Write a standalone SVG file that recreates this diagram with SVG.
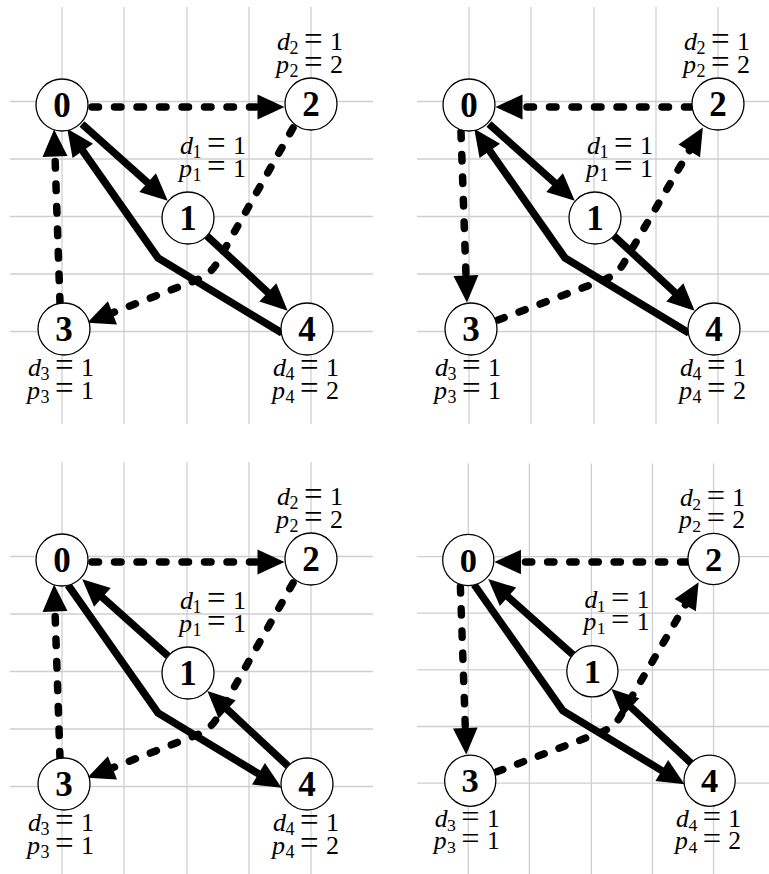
<svg xmlns="http://www.w3.org/2000/svg" width="769" height="874" viewBox="0 0 769 874">
<style>
.grid line{stroke:#cfcfcf;stroke-width:1.3}
.node circle{fill:#fff;stroke:#000;stroke-width:1.3}
.id{font-family:'Liberation Serif','Times New Roman',serif;font-weight:bold;font-size:35px;text-anchor:middle}
.lbl{font-family:'Liberation Serif','Times New Roman',serif;font-size:26px;fill:#000}
.it{font-style:italic}
.sub{font-size:18px}
.eq{font-size:33px}
.solid{fill:none;stroke:#000;stroke-width:7.5;stroke-linejoin:miter;marker-end:url(#ah)}
.dash{fill:none;stroke:#000;stroke-width:7.5;stroke-dasharray:6.5 16;stroke-linecap:round;stroke-linejoin:round;marker-end:url(#ah)}
</style>
<defs>
<marker id="ah" markerUnits="userSpaceOnUse" markerWidth="27" markerHeight="25" viewBox="0 0 27 25" refX="0.5" refY="12.5" orient="auto" overflow="visible">
<path d="M0,0 L27,12.5 L0,25 Z" fill="#000"/>
</marker>
<g id="gridpat" class="grid">
<line x1="10" y1="101.5" x2="373" y2="101.5"/>
<line x1="10" y1="159" x2="373" y2="159"/>
<line x1="10" y1="216.5" x2="373" y2="216.5"/>
<line x1="10" y1="274" x2="373" y2="274"/>
<line x1="10" y1="331.5" x2="373" y2="331.5"/>
<line x1="62" y1="7" x2="62" y2="424"/>
<line x1="124" y1="7" x2="124" y2="424"/>
<line x1="187" y1="7" x2="187" y2="424"/>
<line x1="249" y1="7" x2="249" y2="424"/>
<line x1="311" y1="7" x2="311" y2="424"/>
</g>
<g id="nodepat">
<g class="node"><circle cx="62" cy="105" r="26"/><text class="id" x="62" y="117">0</text></g>
<g class="node"><circle cx="188" cy="218" r="26"/><text class="id" x="188" y="230">1</text>
<text class="lbl" x="180" y="154"><tspan class="it">d</tspan><tspan class="sub" x="192.5" dy="4">1</tspan><tspan class="eq" x="207" dy="-4">=</tspan><tspan x="233">1</tspan></text>
<text class="lbl" x="179" y="176.5"><tspan class="it">p</tspan><tspan class="sub" x="192.5" dy="4">1</tspan><tspan class="eq" x="207" dy="-4">=</tspan><tspan x="233">1</tspan></text></g>
<g class="node"><circle cx="311" cy="104" r="26"/><text class="id" x="311" y="116">2</text>
<text class="lbl" x="277" y="50"><tspan class="it">d</tspan><tspan class="sub" x="289.5" dy="4">2</tspan><tspan class="eq" x="304" dy="-4">=</tspan><tspan x="330">1</tspan></text>
<text class="lbl" x="276" y="72.5"><tspan class="it">p</tspan><tspan class="sub" x="289.5" dy="4">2</tspan><tspan class="eq" x="304" dy="-4">=</tspan><tspan x="330">2</tspan></text></g>
<g class="node"><circle cx="64" cy="329" r="26"/><text class="id" x="64" y="341">3</text>
<text class="lbl" x="28" y="376"><tspan class="it">d</tspan><tspan class="sub" x="40.5" dy="4">3</tspan><tspan class="eq" x="55" dy="-4">=</tspan><tspan x="81">1</tspan></text>
<text class="lbl" x="27" y="398.5"><tspan class="it">p</tspan><tspan class="sub" x="40.5" dy="4">3</tspan><tspan class="eq" x="55" dy="-4">=</tspan><tspan x="81">1</tspan></text></g>
<g class="node"><circle cx="307" cy="329" r="26"/><text class="id" x="307" y="341">4</text>
<text class="lbl" x="273" y="376"><tspan class="it">d</tspan><tspan class="sub" x="285.5" dy="4">4</tspan><tspan class="eq" x="300" dy="-4">=</tspan><tspan x="326">1</tspan></text>
<text class="lbl" x="272" y="398.5"><tspan class="it">p</tspan><tspan class="sub" x="285.5" dy="4">4</tspan><tspan class="eq" x="300" dy="-4">=</tspan><tspan x="326">2</tspan></text></g>
</g>
</defs>

<!-- Panel 1 -->
<g id="panel1">
<use href="#gridpat"/>
<g id="p1-edges">
<path class="dash" d="M92,107 L258,107"/>
<path class="dash" d="M60,303 L55,156"/>
<path class="dash" d="M293,128 L218,261 Q212,273 199,279 L112,313"/>
<path class="solid" d="M82,124 L148,183"/>
<path class="solid" d="M207,236 L268.2,292.7"/>
<path class="solid" d="M282,333 L158,258 L82.5,150.5"/>
</g>
<g id="p1-nodes"><use href="#nodepat"/></g>
</g>

<!-- Panel 2 -->
<g id="panel2" transform="translate(407,0)">
<use href="#gridpat"/>
<g id="p2-edges">
<path class="dash" d="M284,107 L115,107"/>
<path class="dash" d="M54,132 L59,276"/>
<path class="dash" d="M91,320 L199,279 Q212,273 218,261 L282.5,150.4"/>
<path class="solid" d="M82,124 L148,183"/>
<path class="solid" d="M207,236 L268.2,292.7"/>
<path class="solid" d="M282,333 L158,258 L82.5,150.5"/>
</g>
<g id="p2-nodes"><use href="#nodepat"/></g>
</g>

<!-- Panel 3 -->
<g id="panel3" transform="translate(0,455)">
<use href="#gridpat"/>
<g id="p3-edges">
<path class="dash" d="M92,107 L258,107"/>
<path class="dash" d="M60,303 L55,156"/>
<path class="dash" d="M293,128 L218,261 Q212,273 199,279 L112,313"/>
<path class="solid" d="M168,201 L102,142"/>
<path class="solid" d="M288,311 L226.8,254.1"/>
<path class="solid" d="M68,130 L158,258 L258.9,319"/>
</g>
<g id="p3-nodes"><use href="#nodepat"/></g>
</g>

<!-- Panel 4 -->
<g id="panel4" transform="translate(407.2,456.6) scale(0.985)">
<use href="#gridpat"/>
<g id="p4-edges">
<path class="dash" d="M284,107 L115,107"/>
<path class="dash" d="M54,132 L59,276"/>
<path class="dash" d="M91,320 L199,279 Q212,273 218,261 L282.5,150.4"/>
<path class="solid" d="M168,201 L102,142"/>
<path class="solid" d="M288,311 L226.8,254.1"/>
<path class="solid" d="M68,130 L158,258 L258.9,319"/>
</g>
<g id="p4-nodes"><use href="#nodepat"/></g>
</g>
</svg>
